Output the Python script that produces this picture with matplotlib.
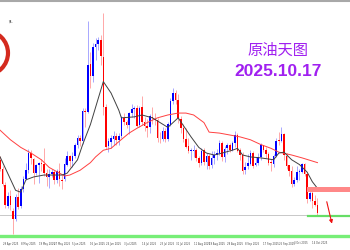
import matplotlib
matplotlib.use("Agg")
import matplotlib.pyplot as plt
from matplotlib.patches import Circle
from matplotlib.lines import Line2D

plt.rcParams["font.family"] = ["Noto Sans CJK SC", "DejaVu Sans"]

# daily candles, 28 Apr 2025 .. 16 Oct 2025 (one per weekday)
opens = [63.0, 62.0, 60.4, 58.2, 59.2, 57.6, 56.8, 59.1, 58.1, 59.9,
         61.0, 61.9, 63.7, 63.1, 61.6, 62.5, 62.7, 62.6, 61.6, 61.2,
         61.5, 61.7, 60.9, 61.8, 60.9, 61.0, 62.5, 63.4, 62.9, 63.4,
         64.6, 65.3, 65.0, 68.1, 68.0, 73.0, 71.8, 74.8, 75.1, 75.6,
         73.8, 68.5, 64.4, 64.9, 65.2, 65.5, 65.1, 65.5, 67.4, 67.0,
         66.6, 67.9, 68.3, 68.4, 66.6, 68.5, 67.0, 66.5, 66.4, 67.5,
         67.3, 67.2, 65.3, 65.2, 66.0, 65.2, 66.7, 69.2, 70.0, 69.3,
         67.3, 66.3, 65.2, 64.4, 63.9, 63.9, 64.0, 63.2, 62.7, 64.0,
         62.8, 63.4, 62.4, 63.2, 63.5, 63.7, 64.8, 63.3, 64.2, 64.6,
         64.0, 64.8, 65.6, 64.0, 63.5, 61.9, 62.3, 62.6, 63.7, 62.4,
         62.7, 63.3, 64.5, 64.0, 63.6, 62.7, 62.6, 63.4, 65.0, 65.0,
         65.7, 63.4, 62.4, 61.8, 60.5, 60.9, 61.7, 61.7, 62.6, 61.5,
         58.9, 59.5, 58.7, 58.3]
highs = [63.4, 62.3, 60.7, 59.6, 59.8, 57.9, 59.4, 60.0, 60.2, 61.3,
         62.7, 64.1, 64.0, 63.2, 62.6, 62.8, 63.1, 64.2, 62.0, 62.0,
         62.0, 61.9, 62.0, 62.7, 61.4, 63.2, 63.9, 63.5, 63.8, 64.8,
         65.6, 65.6, 68.4, 68.4, 77.6, 74.3, 75.3, 75.8, 75.9, 76.1,
         78.4, 68.9, 65.3, 65.6, 66.0, 65.8, 65.8, 67.6, 67.9, 67.2,
         68.0, 68.8, 68.6, 68.7, 68.6, 69.7, 67.5, 67.3, 67.8, 68.5,
         67.9, 67.4, 65.9, 66.4, 66.3, 67.0, 69.5, 70.5, 70.3, 69.9,
         67.6, 66.8, 66.3, 65.3, 64.2, 64.6, 64.2, 63.4, 64.2, 64.2,
         63.7, 63.6, 63.9, 63.9, 64.1, 65.1, 65.0, 64.4, 64.8, 64.8,
         65.0, 66.0, 65.8, 64.2, 63.8, 62.8, 63.6, 64.0, 63.9, 63.3,
         63.7, 64.8, 64.6, 64.3, 63.8, 63.1, 63.6, 65.3, 65.9, 66.4,
         65.8, 63.7, 62.5, 62.3, 61.2, 62.3, 62.0, 62.7, 62.7, 61.7,
         59.8, 59.8, 59.3, 59.0]
lows = [61.8, 60.3, 57.9, 57.9, 57.7, 55.2, 56.6, 57.8, 57.9, 59.6,
        60.9, 61.6, 62.6, 60.5, 61.4, 60.6, 61.8, 61.3, 60.3, 60.0,
        61.2, 60.5, 60.6, 60.2, 59.9, 60.8, 62.3, 62.2, 62.2, 63.2,
        64.2, 64.4, 64.7, 66.4, 67.9, 70.5, 71.2, 73.5, 74.5, 72.9,
        67.7, 64.1, 63.8, 64.2, 64.6, 64.6, 64.6, 65.3, 66.6, 66.3,
        65.7, 67.5, 67.4, 66.4, 66.4, 66.6, 66.0, 65.4, 65.8, 66.8,
        66.6, 64.9, 64.8, 65.0, 64.9, 65.0, 66.5, 68.8, 68.9, 66.9,
        65.8, 64.9, 64.2, 63.7, 63.0, 63.3, 62.9, 62.2, 62.4, 62.5,
        62.0, 62.0, 62.1, 62.6, 63.0, 63.5, 62.9, 62.8, 63.6, 63.8,
        63.9, 64.3, 63.8, 63.0, 61.5, 61.5, 62.0, 62.4, 62.1, 62.3,
        62.5, 63.0, 63.8, 63.2, 62.4, 61.8, 62.2, 63.3, 64.5, 64.9,
        63.0, 62.0, 61.3, 60.1, 60.2, 60.7, 60.9, 61.6, 61.3, 58.5,
        58.7, 57.9, 58.1, 57.2]
closes = [62.05, 60.42, 58.21, 59.24, 58.29, 56.8, 59.09, 58.07, 59.91, 61.02,
          61.95, 63.67, 63.15, 61.62, 62.49, 62.69, 62.56, 61.57, 61.20, 61.53,
          61.7, 60.89, 61.84, 60.94, 60.79, 62.52, 63.41, 62.85, 63.37, 64.58,
          65.29, 64.98, 68.15, 68.04, 72.98, 71.77, 74.84, 75.14, 75.6, 73.84,
          68.51, 64.37, 64.92, 65.24, 65.52, 65.11, 65.45, 67.45, 67.00, 66.6,
          67.93, 68.33, 68.38, 66.57, 68.45, 66.98, 66.52, 66.38, 67.54, 67.34,
          67.20, 65.31, 65.25, 66.03, 65.16, 66.71, 69.21, 70.00, 69.26, 67.33,
          66.29, 65.16, 64.35, 63.88, 63.95, 63.96, 63.17, 62.65, 63.96, 62.80,
          63.42, 62.35, 63.21, 63.52, 63.66, 64.80, 63.25, 64.15, 64.60, 64.01,
          64.8, 65.59, 63.97, 63.48, 61.87, 62.26, 62.63, 63.67, 62.37, 62.69,
          63.30, 64.52, 64.05, 63.57, 62.68, 62.64, 63.41, 64.99, 64.98, 65.72,
          63.45, 62.37, 61.78, 60.48, 60.88, 61.69, 61.73, 62.55, 61.51, 58.90,
          59.49, 58.70, 58.27, 57.46]

# moving averages (bar index, price)
ma_fast_idx = [0, 6, 8, 10, 13, 17, 20, 24, 26, 30, 32, 35, 40, 43, 46, 47, 52,
               55, 59, 62, 65, 69, 74, 77, 80, 83, 86, 90, 92, 94, 97, 101, 106,
               108, 110, 113, 116, 119, 121, 123]
ma_fast = [63.3, 59.8, 59.6, 60.9, 61.2, 61.4, 61.4, 61.4, 61.6, 63.0, 64.6,
           66.7, 71.2, 70.0, 68.2, 67.4, 67.5, 67.7, 67.4, 66.9, 66.4, 67.4,
           65.4, 64.3, 63.7, 63.5, 63.7, 64.0, 64.2, 63.5, 63.3, 63.2, 63.0,
           63.7, 63.8, 63.0, 62.5, 61.7, 60.7, 60.0]
ma_slow_idx = [0, 4, 8, 12, 16, 19, 23, 25, 27, 31, 35, 37, 40, 43, 46, 50, 53,
               57, 61, 65, 69, 72, 75, 79, 81, 85, 89, 93, 97, 101, 105, 108,
               113, 117, 123]
ma_slow = [66.1, 65.1, 64.3, 63.7, 63.0, 62.2, 61.6, 61.3, 61.4, 61.9, 62.7,
           63.3, 64.0, 64.2, 64.9, 65.8, 66.3, 66.9, 67.4, 67.7, 67.9, 67.9,
           67.7, 66.9, 65.9, 65.8, 65.6, 65.4, 65.1, 64.6, 64.2, 63.8, 63.5,
           63.2, 62.7]

tick_idx = [1, 8, 15, 21, 28, 35, 41, 48, 55, 62, 68, 75, 81, 88, 95, 102, 108, 114, 121]
tick_labels = ["29 Apr 2025", "8 May 2025", "19 May 2025", "27 May 2025", "5 Jun 2025",
               "16 Jun 2025", "24 Jun 2025", "3 Jul 2025", "14 Jul 2025", "23 Jul 2025",
               "31 Jul 2025", "11 Aug 2025", "19 Aug 2025", "28 Aug 2025", "8 Sep 2025",
               "17 Sep 2025", "25 Sep 2025", "3 Oct 2025", "14 Oct 2025"]

support_low = 55.0
support_near = 57.15
resist_lo, resist_hi = 59.6, 60.1

fig = plt.figure(figsize=(3.5, 2.5), dpi=100)
ax = fig.add_axes([0, 0.044, 1, 0.948])
ax.set_xlim(-0.04, 135.6)
ax.set_ylim(54.69, 79.55)

# levels
ax.axhline(57.2, color="#c8c8c8", lw=0.7, zorder=1)
ax.axhline(support_low, color="#77ee77", lw=2.4, zorder=1)
ax.axhline(support_near, xmin=0.88, xmax=1, color="#66dd66", lw=1.6, zorder=5)
ax.axhspan(resist_lo, resist_hi, xmin=0.877, xmax=1, color="#ff8888", lw=0, zorder=5)

# candles
xs = list(range(len(closes)))
for i in xs:
    o, h, l, c = opens[i], highs[i], lows[i], closes[i]
    up = c >= o
    col = "#0000ff" if up else "#ff0000"
    wick = "#9a9aff" if up else "#ff9a9a"
    ax.vlines(i, l, h, color=wick, lw=0.6, zorder=2)
    ax.bar(i, max(abs(c - o), 0.08), bottom=min(o, c), width=0.62,
           color=col, lw=0, zorder=3)

ax.plot(ma_slow_idx, ma_slow, color="#ff4040", lw=0.7, zorder=4)
ax.plot(ma_fast_idx, ma_fast, color="#404040", lw=0.7, zorder=4)

ax.annotate("", xy=(128.6, 56.3), xytext=(126.6, 58.6),
            arrowprops=dict(arrowstyle="-|>", color="#ee1111", lw=0.8,
                            mutation_scale=5, shrinkA=0, shrinkB=0), zorder=6)

ax.set_xticks(tick_idx)
ax.set_xticklabels(tick_labels, fontsize=1.8, color="#444444", ha="left",
                   family="DejaVu Sans")
ax.tick_params(axis="x", length=0, pad=1.8)
ax.set_yticks([])
for s in ax.spines.values():
    s.set_visible(False)

# title texts
ax.text(0.795, 0.795, "原油天图", transform=ax.transAxes, ha="center", va="center",
        fontsize=11, color="#a020f0")
ax.text(0.795, 0.705, "2025.10.17", transform=ax.transAxes, ha="center", va="center",
        fontsize=12.5, fontweight="bold", color="#a020f0", family="Liberation Sans")

# logo ring, mostly cut off on the left
ring = Circle((-0.14, 1.97), 0.22, transform=fig.dpi_scale_trans, fill=False,
              ec="#d42a1e", lw=3, clip_on=False)
fig.patches.append(ring)
fig.text(0.018, 0.905, "ay", fontsize=3, rotation=-50, color="#333333")

# grey strip on top
fig.add_artist(Line2D([0, 1], [0.996, 0.996], transform=fig.transFigure,
                      color="#a8a8a8", lw=1.5))

fig.savefig("out.png", dpi=100, facecolor="white")
